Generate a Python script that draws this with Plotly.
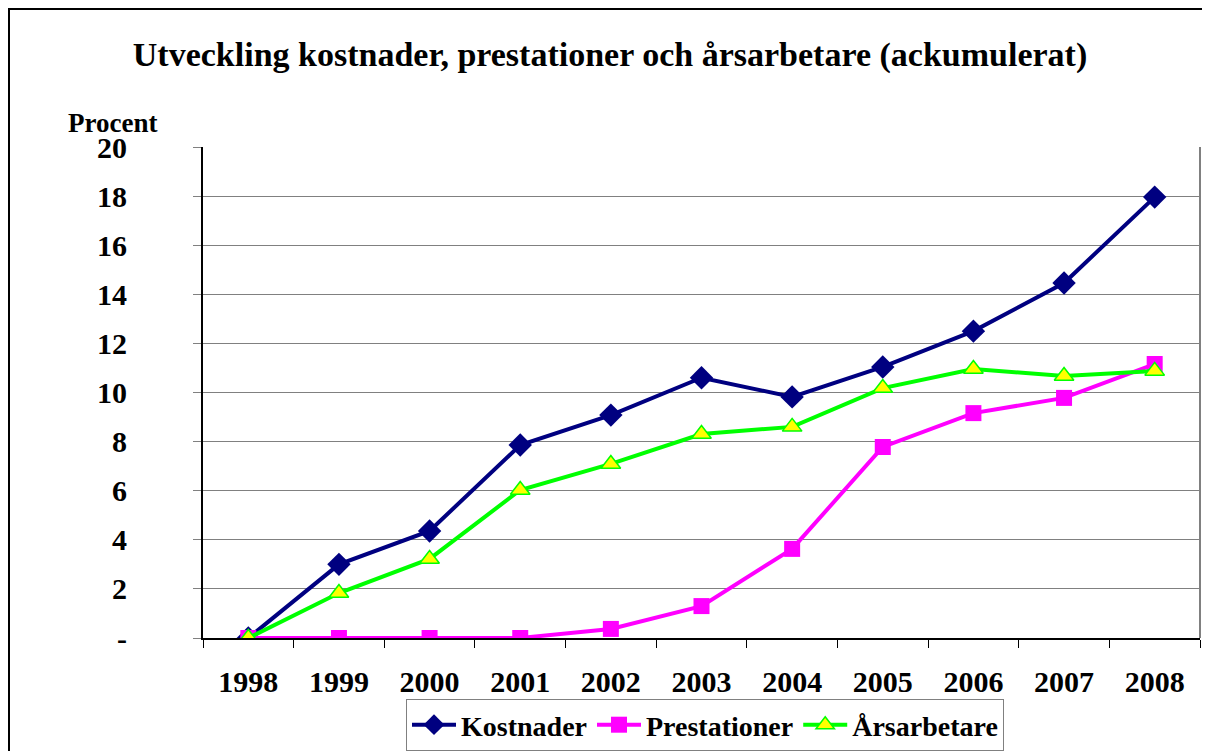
import plotly.graph_objects as go

years = ["1998", "1999", "2000", "2001", "2002", "2003", "2004", "2005", "2006", "2007", "2008"]
kostnader = [0, 3.0, 4.36, 7.86, 9.08, 10.6, 9.82, 11.04, 12.5, 14.46, 17.96]
prestationer = [0, 0, 0, 0, 0.37, 1.3, 3.63, 7.78, 9.16, 9.78, 11.16]
arsarbetare = [0, 1.83, 3.22, 6.03, 7.09, 8.31, 8.6, 10.18, 10.96, 10.67, 10.88]

y_ticks = [0, 2, 4, 6, 8, 10, 12, 14, 16, 18, 20]
y_labels = ["-"] + [str(v) for v in y_ticks[1:]]

FONT = "Liberation Serif"

# the page adds an 8px body margin, so the figure is a bit smaller than the window
W, H = 1202, 743
L, T, R, B = 195, 139, 10, 113
PW, PH = W - L - R, H - T - B


def px(x):
    return (x - 8 - L) / PW


def py(y):
    return (H - B - (y - 8)) / PH


fig = go.Figure()

fig.add_trace(go.Scatter(
    x=years, y=kostnader, name="<b>Kostnader</b>", mode="lines+markers",
    line=dict(color="#000080", width=4),
    marker=dict(symbol="diamond", size=18, color="#000080"),
))
fig.add_trace(go.Scatter(
    x=years, y=prestationer, name="<b>Prestationer</b>", mode="lines+markers",
    line=dict(color="#FF00FF", width=4),
    marker=dict(symbol="square", size=16, color="#FF00FF"),
))
fig.add_trace(go.Scatter(
    x=years, y=arsarbetare, name="<b>Årsarbetare</b>", mode="lines+markers",
    line=dict(color="#00FF00", width=4),
    marker=dict(symbol="triangle-up", size=17, color="#FFFF00",
                line=dict(color="#00FF00", width=1.5)),
))

# outer chart frame (right/bottom edges run off the picture)
fig.add_shape(type="rect", xref="paper", yref="paper",
              x0=px(9), x1=px(1230), y0=py(780), y1=py(9),
              line=dict(color="#000000", width=2), layer="below")

fig.add_annotation(text="<b>Procent</b>", xref="paper", yref="paper",
                   x=px(112), y=py(123), showarrow=False,
                   xanchor="center", yanchor="middle",
                   font=dict(family=FONT, size=27, color="#000000"))

fig.update_layout(
    width=W, height=H,
    paper_bgcolor="white", plot_bgcolor="white",
    margin=dict(l=L, r=R, t=T, b=B, pad=0),
    title=dict(text="<b>Utveckling kostnader, prestationer och årsarbetare (ackumulerat)</b>",
               x=(610 - 8) / W, xanchor="center", y=1 - (54 - 8) / H, yanchor="middle",
               font=dict(family=FONT, size=34, color="#000000")),
    font=dict(family=FONT, color="#000000"),
    xaxis=dict(type="category", range=[-0.5, 10.5], tickson="boundaries",
               ticks="outside", ticklen=8,
               tickcolor="#000000", showline=True, linecolor="#000000", linewidth=2,
               showgrid=False, tickfont=dict(size=30, family=FONT),
               tickprefix="<b>", ticksuffix="</b>", ticklabelstandoff=16,
               automargin=False, layer="above traces"),
    yaxis=dict(range=[0, 20], tickvals=y_ticks, ticktext=["<b>%s</b>" % t for t in y_labels],
               ticks="outside", ticklen=8, tickcolor="#808080",
               showline=True, linecolor="#000000", linewidth=2,
               showgrid=True, gridcolor="#808080", gridwidth=1,
               zeroline=False, tickfont=dict(size=30, family=FONT),
               ticklabelstandoff=60, automargin=False),
    legend=dict(orientation="h", xref="container", yref="container",
                x=(705 - 8) / W, xanchor="center", y=1 - (699 - 8) / H, yanchor="top",
                bordercolor="#808080", borderwidth=1, bgcolor="white",
                font=dict(size=28, family=FONT),
                itemwidth=44, tracegroupgap=0),
    showlegend=True,
)

# right border of the plot area
fig.add_shape(type="line", xref="paper", yref="paper", x0=1, x1=1, y0=0, y1=1,
              line=dict(color="#808080", width=2))

fig.write_html("out.html")
